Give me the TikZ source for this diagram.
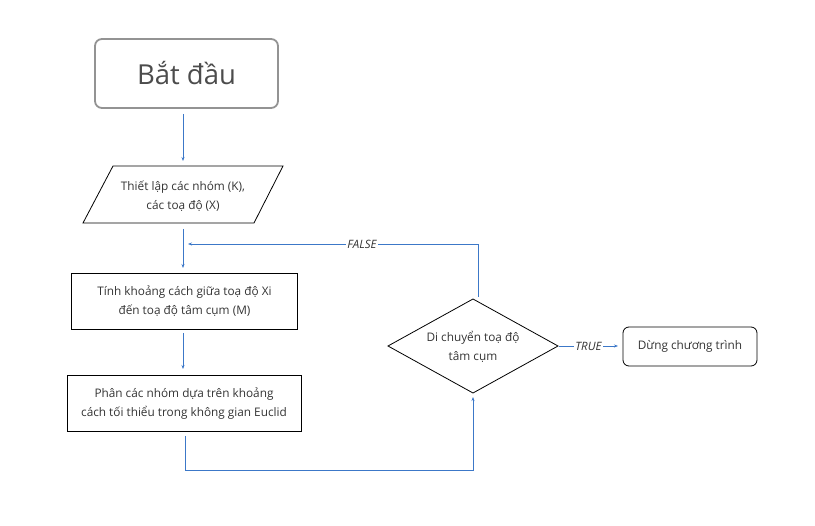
\documentclass[tikz,border=0pt]{standalone}
\usepackage{fontspec}
\setmainfont{Open Sans}
\usetikzlibrary{shapes.geometric,arrows.meta}
\definecolor{lnblue}{HTML}{3C78C8}
\definecolor{txtgray}{HTML}{333333}
\tikzset{
  box/.style={draw=black,line width=0.8pt,minimum width=#1,align=center,text=txtgray,font=\fontsize{11.8}{18.5}\selectfont,inner sep=0pt},
  conn/.style={draw=lnblue,line width=0.9pt,-{Stealth[length=4pt,width=3pt]}},
  lbl/.style={fill=white,inner sep=1pt,font=\fontsize{11.5}{13}\selectfont\itshape,text=txtgray},
}
\begin{document}
\begin{tikzpicture}[x=1pt,y=-1pt]
\useasboundingbox (0,0) rectangle (815,526);
% start
\node[draw=gray!85,line width=1.8pt,rounded corners=7pt,minimum width=183pt,minimum height=69pt,text=black!70,font=\fontsize{27.5}{30}\selectfont] (start) at (186.5,73.5) {Bắt đầu};
% parallelogram
\path[draw=black,line width=0.8pt] (113,166) -- (283,166) -- (254,223) -- (83,223) -- cycle;
\node[align=center,text=txtgray,font=\fontsize{11.8}{18.5}\selectfont] (io) at (183,196) {Thiết lập các nhóm (K),\\các toạ độ (X)};
% rect 2
\node[box=226pt,minimum height=56pt] (dist) at (184.5,301) {Tính khoảng cách giữa toạ độ Xi\\đến toạ độ tâm cụm (M)};
% rect 3
\node[box=234pt,minimum height=56pt] (group) at (184,403.5) {Phân các nhóm dựa trên khoảng\\cách tối thiểu trong không gian Euclid};
% diamond
\path[draw=black,line width=0.8pt] (388,346) -- (473,299) -- (558,346) -- (473,393) -- cycle;
\node[align=center,text=txtgray,font=\fontsize{11.8}{18.5}\selectfont] (dec) at (473,347) {Di chuyển toạ độ\\tâm cụm};
% end
\node[box=134pt,minimum height=39pt,rounded corners=6pt] (stop) at (690,346.5) {Dừng chương trình};
% coordinates
\coordinate (a1s) at (183,114);
\coordinate (a1e) at (183,161);
\coordinate (a2s) at (183,229);
\coordinate (a2e) at (183,268);
\coordinate (a3s) at (183,333);
\coordinate (a3e) at (183,369);
\coordinate (fs) at (478,297);
\coordinate (fc) at (478,244);
\coordinate (fe) at (188,244);
\coordinate (gs) at (185,436);
\coordinate (gc1) at (185,470.5);
\coordinate (gc2) at (473,470.5);
\coordinate (ge) at (473,397);
\coordinate (ts) at (559,346);
\coordinate (te) at (618,346);
% connectors
\draw[conn] (a1s) -- (a1e);
\draw[conn] (a2s) -- (a2e);
\draw[conn] (a3s) -- (a3e);
\draw[conn] (fs) -- (fc) -- node[lbl,pos=0.4] (flbl) {FALSE} (fe);
\draw[conn] (gs) -- (gc1) -- (gc2) -- (ge);
\draw[conn] (ts) -- node[lbl,pos=0.5] (tlbl) {TRUE} (te);
\end{tikzpicture}
\end{document}
